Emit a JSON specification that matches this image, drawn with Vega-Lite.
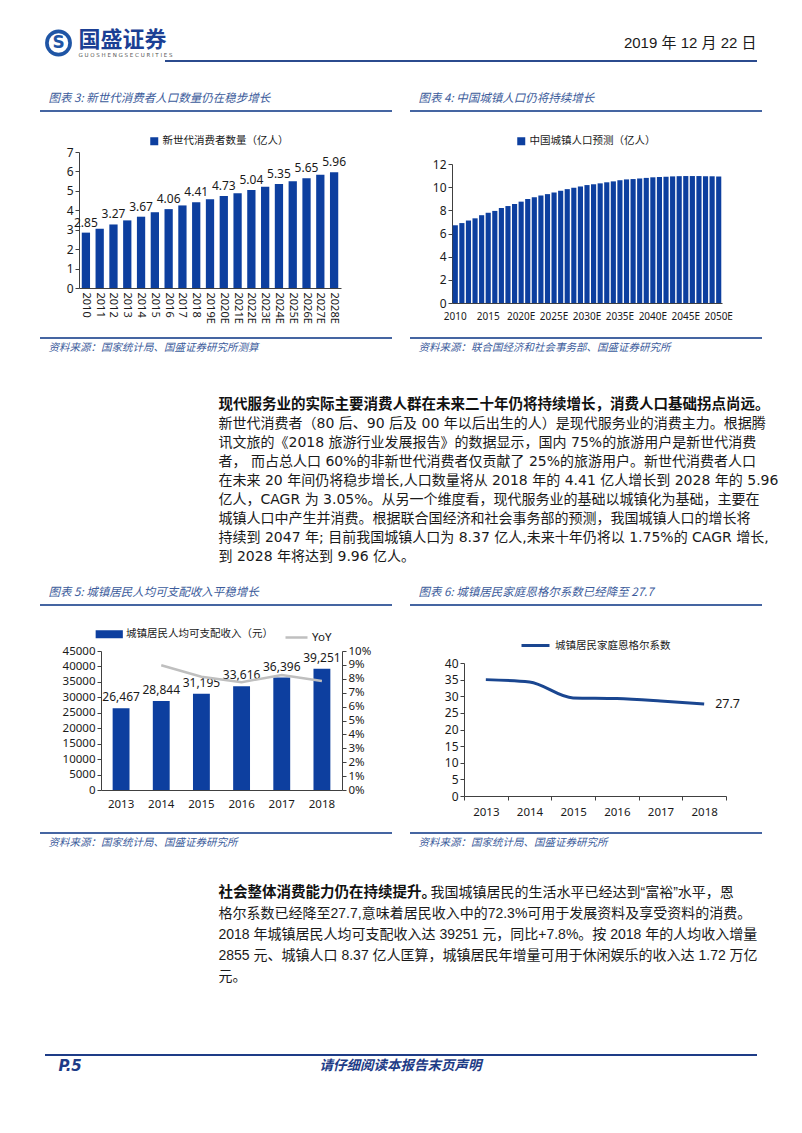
{
  "$schema": "https://vega.github.io/schema/vega-lite/v6.json",
  "background": "white",
  "padding": 0,
  "spacing": 0,
  "bounds": "full",
  "datasets": {"e": [{}]},
  "resolve": {"scale": {"color": "independent", "stroke": "independent"}, "legend": {"color": "independent", "stroke": "independent"}},
  "config": {
    "view": {"stroke": null},
    "font": "Noto Sans, Noto Sans CJK SC",
    "axis": {"labelFont": "Noto Sans", "labelFontSize": 11.5, "labelColor": "#1a1a1a", "domainColor": "#404040", "tickColor": "#404040", "grid": false, "tickSize": 4, "labelOverlap": false},
    "text": {"font": "Noto Sans, Noto Sans CJK SC", "color": "#1a1a1a"},
    "legend": {"labelFont": "Noto Sans CJK SC", "labelColor": "#1a1a1a", "padding": 0, "labelFontSize": 10.5}
  },
  "vconcat": [
    {"width": 1, "height": 26, "data": {"name": "e"}, "mark": {"type": "rect", "opacity": 0}, "encoding": {}},
    {"hconcat": [
      {"width": 41, "height": 34, "data": {"name": "e"}, "mark": {"type": "rect", "opacity": 0}, "encoding": {}},
      {"width": 35, "height": 34, "data": {"name": "e"}, "layer": [
        {"mark": {"type": "point", "filled": true, "size": 720, "color": "#1F55A5", "opacity": 1}, "encoding": {}},
        {"mark": {"type": "point", "filled": true, "size": 380, "color": "#ffffff", "opacity": 1}, "encoding": {}},
        {"mark": {"type": "text", "align": "center", "baseline": "middle", "font": "DejaVu Sans", "fontWeight": "bold", "fontSize": 17, "color": "#1F55A5"}, "encoding": {"text": {"value": "S"}}}
      ]},
      {"width": 2, "height": 1, "data": {"name": "e"}, "mark": {"type": "rect", "opacity": 0}, "encoding": {}},
      {"width": 1, "height": 28, "data": {"name": "e"}, "layer": [
        {"mark": {"type": "text", "align": "left", "baseline": "middle", "font": "Noto Sans CJK SC", "fontWeight": "bold", "fontSize": 22, "color": "#1B3F94"}, "encoding": {"text": {"value": "国盛证券"}}},
        {"mark": {"type": "text", "align": "left", "baseline": "middle", "dy": 15, "font": "DejaVu Sans", "fontSize": 5.5, "color": "#555555"}, "encoding": {"text": {"value": "G U O S H E N G   S E C U R I T I E S"}}}
      ]},
      {"width": 677, "height": 1, "data": {"name": "e"}, "mark": {"type": "rect", "opacity": 0}, "encoding": {}},
      {"width": 1, "height": 34, "data": {"name": "e"}, "mark": {"type": "text", "align": "right", "baseline": "middle", "font": "Liberation Sans Narrow, Liberation Sans, Noto Sans CJK SC", "fontSize": 15, "color": "#1a1a1a"}, "encoding": {"text": {"value": "2019 年 12 月 22 日"}}}
    ], "spacing": 0, "bounds": "flush"},
    {"hconcat": [
      {"width": 165, "height": 28, "data": {"name": "e"}, "mark": {"type": "rect", "opacity": 0}, "encoding": {}},
      {"width": 592, "height": 2, "data": {"name": "e"}, "mark": {"type": "rect", "color": "#2B4B8E"}, "encoding": {}}
    ], "spacing": 0, "bounds": "flush"},
    {"hconcat": [
      {"width": 48, "height": 22, "data": {"name": "e"}, "mark": {"type": "rect", "opacity": 0}, "encoding": {}},
      {"width": 1, "height": 22, "data": {"name": "e"}, "mark": {"type": "text", "align": "left", "baseline": "middle", "font": "Noto Sans CJK SC", "fontSize": 11.5, "fontStyle": "italic", "color": "#3B5B9B"}, "encoding": {"text": {"value": "图表 3: 新世代消费者人口数量仍在稳步增长"}}},
      {"width": 369, "height": 1, "data": {"name": "e"}, "mark": {"type": "rect", "opacity": 0}, "encoding": {}},
      {"width": 1, "height": 22, "data": {"name": "e"}, "mark": {"type": "text", "align": "left", "baseline": "middle", "font": "Noto Sans CJK SC", "fontSize": 11.5, "fontStyle": "italic", "color": "#3B5B9B"}, "encoding": {"text": {"value": "图表 4: 中国城镇人口仍将持续增长"}}}
    ], "spacing": 0, "bounds": "flush"},
    {"hconcat": [
      {"width": 40, "height": 15, "data": {"name": "e"}, "mark": {"type": "rect", "opacity": 0}, "encoding": {}},
      {"width": 352, "height": 2, "data": {"name": "e"}, "mark": {"type": "rect", "color": "#4565A2"}, "encoding": {}},
      {"width": 18, "height": 1, "data": {"name": "e"}, "mark": {"type": "rect", "opacity": 0}, "encoding": {}},
      {"width": 352, "height": 2, "data": {"name": "e"}, "mark": {"type": "rect", "color": "#4565A2"}, "encoding": {}}
    ], "spacing": 0, "bounds": "flush"},
    {"hconcat": [
      {"width": 79, "height": 212, "data": {"name": "e"}, "mark": {"type": "rect", "opacity": 0}, "encoding": {}},
      {
        "width": 262, "height": 163,
        "data": {"values": [
          {"year": "2010", "v": 2.85}, {"year": "2011", "v": 3.05}, {"year": "2012", "v": 3.27},
          {"year": "2013", "v": 3.48}, {"year": "2014", "v": 3.67}, {"year": "2015", "v": 3.9},
          {"year": "2016", "v": 4.06}, {"year": "2017", "v": 4.25}, {"year": "2018", "v": 4.41},
          {"year": "2019E", "v": 4.57}, {"year": "2020E", "v": 4.73}, {"year": "2021E", "v": 4.88},
          {"year": "2022E", "v": 5.04}, {"year": "2023E", "v": 5.21}, {"year": "2024E", "v": 5.35},
          {"year": "2025E", "v": 5.5}, {"year": "2026E", "v": 5.65}, {"year": "2027E", "v": 5.83},
          {"year": "2028E", "v": 5.96}
        ]},
        "layer": [
          {
            "mark": {"type": "bar"},
            "encoding": {
              "x": {"field": "year", "type": "ordinal", "title": null, "scale": {"paddingInner": 0.4, "paddingOuter": 0.2}, "axis": {"labelAngle": 90, "ticks": false, "labelPadding": 4, "labelFontSize": 11}},
              "y": {"field": "v", "type": "quantitative", "title": null, "scale": {"domain": [0, 7], "nice": false, "range": [163, 27]}, "axis": {"values": [0, 1, 2, 3, 4, 5, 6, 7], "labelFontSize": 12}},
              "color": {"datum": "新世代消费者数量（亿人）", "scale": {"range": ["#0D3F9F"]}, "legend": {"orient": "none", "legendX": 70, "legendY": 11, "title": null, "symbolType": "square", "symbolSize": 64, "labelOffset": 3}}
            }
          },
          {
            "transform": [{"filter": {"field": "year", "oneOf": ["2010", "2012", "2014", "2016", "2018", "2020E", "2022E", "2024E", "2026E", "2028E"]}}],
            "mark": {"type": "text", "baseline": "bottom", "dy": -3, "fontSize": 12, "font": "Noto Sans"},
            "encoding": {
              "x": {"field": "year", "type": "ordinal", "title": null, "axis": {"labelAngle": 90, "ticks": false, "labelPadding": 4, "labelFontSize": 11}},
              "y": {"field": "v", "type": "quantitative", "title": null, "axis": {"values": [0, 1, 2, 3, 4, 5, 6, 7], "labelFontSize": 12}},
              "text": {"field": "v", "type": "quantitative", "format": ".2f"}
            }
          }
        ]
      },
      {"width": 111, "height": 1, "data": {"name": "e"}, "mark": {"type": "rect", "opacity": 0}, "encoding": {}},
      {
        "width": 270, "height": 178,
        "data": {"values": [
          {"year": "2010", "v": 6.71}, {"year": "2011", "v": 6.9}, {"year": "2012", "v": 7.12}, {"year": "2013", "v": 7.31},
          {"year": "2014", "v": 7.58}, {"year": "2015", "v": 7.79}, {"year": "2016", "v": 7.95}, {"year": "2017", "v": 8.2},
          {"year": "2018", "v": 8.37}, {"year": "2019E", "v": 8.55}, {"year": "2020E", "v": 8.75}, {"year": "2021E", "v": 8.98},
          {"year": "2022E", "v": 9.13}, {"year": "2023E", "v": 9.28}, {"year": "2024E", "v": 9.4}, {"year": "2025E", "v": 9.54},
          {"year": "2026E", "v": 9.69}, {"year": "2027E", "v": 9.83}, {"year": "2028E", "v": 9.96}, {"year": "2029E", "v": 10.06},
          {"year": "2030E", "v": 10.18}, {"year": "2031E", "v": 10.25}, {"year": "2032E", "v": 10.33}, {"year": "2033E", "v": 10.42},
          {"year": "2034E", "v": 10.5}, {"year": "2035E", "v": 10.6}, {"year": "2036E", "v": 10.67}, {"year": "2037E", "v": 10.7},
          {"year": "2038E", "v": 10.75}, {"year": "2039E", "v": 10.8}, {"year": "2040E", "v": 10.85}, {"year": "2041E", "v": 10.88},
          {"year": "2042E", "v": 10.9}, {"year": "2043E", "v": 10.93}, {"year": "2044E", "v": 10.95}, {"year": "2045E", "v": 10.96},
          {"year": "2046E", "v": 10.96}, {"year": "2047E", "v": 10.96}, {"year": "2048E", "v": 10.95}, {"year": "2049E", "v": 10.94},
          {"year": "2050E", "v": 10.92}
        ]},
        "mark": {"type": "bar"},
        "encoding": {
          "x": {"field": "year", "type": "ordinal", "title": null, "scale": {"paddingInner": 0.22, "paddingOuter": 0.11}, "axis": {"labelAngle": 0, "ticks": false, "labelPadding": 8, "labelFontSize": 10, "values": ["2010", "2015", "2020E", "2025E", "2030E", "2035E", "2040E", "2045E", "2050E"]}},
          "y": {"field": "v", "type": "quantitative", "title": null, "scale": {"domain": [0, 12], "nice": false, "range": [178, 39]}, "axis": {"values": [0, 2, 4, 6, 8, 10, 12], "labelFontSize": 12}},
          "color": {"datum": "中国城镇人口预测（亿人）", "scale": {"range": ["#0D3F9F"]}, "legend": {"orient": "none", "legendX": 64, "legendY": 11, "title": null, "symbolType": "square", "symbolSize": 64, "labelOffset": 3}}
        }
      }
    ], "spacing": 0, "bounds": "flush", "resolve": {"scale": {"color": "independent"}, "legend": {"color": "independent"}}},
    {"hconcat": [
      {"width": 40, "height": 2, "data": {"name": "e"}, "mark": {"type": "rect", "opacity": 0}, "encoding": {}},
      {"width": 352, "height": 2, "data": {"name": "e"}, "mark": {"type": "rect", "color": "#4565A2"}, "encoding": {}},
      {"width": 18, "height": 1, "data": {"name": "e"}, "mark": {"type": "rect", "opacity": 0}, "encoding": {}},
      {"width": 352, "height": 2, "data": {"name": "e"}, "mark": {"type": "rect", "color": "#4565A2"}, "encoding": {}}
    ], "spacing": 0, "bounds": "flush"},
    {"hconcat": [
      {"width": 48, "height": 56, "data": {"name": "e"}, "mark": {"type": "rect", "opacity": 0}, "encoding": {}},
      {"width": 1, "height": 18, "data": {"name": "e"}, "mark": {"type": "text", "align": "left", "baseline": "middle", "font": "Noto Sans CJK SC", "fontSize": 10.5, "fontStyle": "italic", "color": "#3B5B9B"}, "encoding": {"text": {"value": "资料来源：国家统计局、国盛证券研究所测算"}}},
      {"width": 369, "height": 1, "data": {"name": "e"}, "mark": {"type": "rect", "opacity": 0}, "encoding": {}},
      {"width": 1, "height": 18, "data": {"name": "e"}, "mark": {"type": "text", "align": "left", "baseline": "middle", "font": "Noto Sans CJK SC", "fontSize": 10.5, "fontStyle": "italic", "color": "#3B5B9B"}, "encoding": {"text": {"value": "资料来源：联合国经济和社会事务部、国盛证券研究所"}}}
    ], "spacing": 0, "bounds": "flush"},
    {"hconcat": [
      {"width": 218, "height": 187, "data": {"name": "e"}, "mark": {"type": "rect", "opacity": 0}, "encoding": {}},
      {
        "width": 1, "height": 171,
        "data": {"values": [
          {"line": 1, "text": "现代服务业的实际主要消费人群在未来二十年仍将持续增长，消费人口基础拐点尚远。"},
          {"line": 2, "text": "新世代消费者（80 后、90 后及 00 年以后出生的人）是现代服务业的消费主力。根据腾"},
          {"line": 3, "text": "讯文旅的《2018 旅游行业发展报告》的数据显示，国内 75%的旅游用户是新世代消费"},
          {"line": 4, "text": "者， 而占总人口 60%的非新世代消费者仅贡献了 25%的旅游用户。新世代消费者人口"},
          {"line": 5, "text": "在未来 20 年间仍将稳步增长,人口数量将从 2018 年的 4.41 亿人增长到 2028 年的 5.96"},
          {"line": 6, "text": "亿人，CAGR 为 3.05%。从另一个维度看，现代服务业的基础以城镇化为基础，主要在"},
          {"line": 7, "text": "城镇人口中产生并消费。根据联合国经济和社会事务部的预测，我国城镇人口的增长将"},
          {"line": 8, "text": "持续到 2047 年; 目前我国城镇人口为 8.37 亿人,未来十年仍将以 1.75%的 CAGR 增长,"},
          {"line": 9, "text": "到 2028 年将达到 9.96 亿人。"}
        ]},
        "layer": [
          {
            "transform": [{"filter": "datum.line == 1"}],
            "mark": {"type": "text", "align": "left", "baseline": "middle", "font": "Noto Sans CJK SC", "fontWeight": "bold", "fontSize": 14.5, "color": "#111111"},
            "encoding": {"y": {"field": "line", "type": "ordinal", "axis": null, "scale": {"type": "point", "padding": 0.5, "domain": [1, 2, 3, 4, 5, 6, 7, 8, 9]}}, "text": {"field": "text"}}
          },
          {
            "transform": [{"filter": "datum.line > 1"}],
            "mark": {"type": "text", "align": "left", "baseline": "middle", "font": "DejaVu Sans, Noto Sans CJK SC", "fontSize": 14, "color": "#1a1a1a"},
            "encoding": {"y": {"field": "line", "type": "ordinal", "axis": null}, "text": {"field": "text"}}
          }
        ]
      }
    ], "spacing": 0, "bounds": "flush"},
    {"hconcat": [
      {"width": 48, "height": 22, "data": {"name": "e"}, "mark": {"type": "rect", "opacity": 0}, "encoding": {}},
      {"width": 1, "height": 22, "data": {"name": "e"}, "mark": {"type": "text", "align": "left", "baseline": "middle", "font": "Noto Sans CJK SC", "fontSize": 11.5, "fontStyle": "italic", "color": "#3B5B9B"}, "encoding": {"text": {"value": "图表 5: 城镇居民人均可支配收入平稳增长"}}},
      {"width": 369, "height": 1, "data": {"name": "e"}, "mark": {"type": "rect", "opacity": 0}, "encoding": {}},
      {"width": 1, "height": 22, "data": {"name": "e"}, "mark": {"type": "text", "align": "left", "baseline": "middle", "font": "Noto Sans CJK SC", "fontSize": 11.5, "fontStyle": "italic", "color": "#3B5B9B"}, "encoding": {"text": {"value": "图表 6: 城镇居民家庭恩格尔系数已经降至 27.7"}}}
    ], "spacing": 0, "bounds": "flush"},
    {"hconcat": [
      {"width": 40, "height": 11, "data": {"name": "e"}, "mark": {"type": "rect", "opacity": 0}, "encoding": {}},
      {"width": 352, "height": 2, "data": {"name": "e"}, "mark": {"type": "rect", "color": "#4565A2"}, "encoding": {}},
      {"width": 18, "height": 1, "data": {"name": "e"}, "mark": {"type": "rect", "opacity": 0}, "encoding": {}},
      {"width": 352, "height": 2, "data": {"name": "e"}, "mark": {"type": "rect", "color": "#4565A2"}, "encoding": {}}
    ], "spacing": 0, "bounds": "flush"},
    {"hconcat": [
      {"width": 101, "height": 217, "data": {"name": "e"}, "mark": {"type": "rect", "opacity": 0}, "encoding": {}},
      {
        "width": 241, "height": 175,
        "data": {"values": [
          {"year": "2013", "inc": 26467}, {"year": "2014", "inc": 28844}, {"year": "2015", "inc": 31195},
          {"year": "2016", "inc": 33616}, {"year": "2017", "inc": 36396}, {"year": "2018", "inc": 39251}
        ]},
        "layer": [
          {
            "mark": {"type": "bar"},
            "encoding": {
              "x": {"field": "year", "type": "ordinal", "title": null, "scale": {"paddingInner": 0.58, "paddingOuter": 0.29}, "axis": {"labelAngle": 0, "ticks": false, "labelPadding": 8, "labelFontSize": 11.5}},
              "y": {"field": "inc", "type": "quantitative", "title": null, "scale": {"domain": [0, 45000], "nice": false, "range": [175, 36]}, "axis": {"orient": "left", "values": [0, 5000, 10000, 15000, 20000, 25000, 30000, 35000, 40000, 45000], "format": "d", "labelFontSize": 11.5}},
              "color": {"datum": "城镇居民人均可支配收入（元）", "scale": {"range": ["#0D3F9F"]}, "legend": {"orient": "none", "legendX": 3, "legendY": 14, "title": null, "symbolType": "M-3.4,-1H3.4V1H-3.4Z", "symbolSize": 64, "labelOffset": 11.5}}
            }
          },
          {
            "mark": {"type": "text", "baseline": "bottom", "dy": -4, "fontSize": 12, "font": "Noto Sans"},
            "encoding": {
              "x": {"field": "year", "type": "ordinal", "title": null, "axis": {"labelAngle": 0, "ticks": false, "labelPadding": 8, "labelFontSize": 11.5}},
              "y": {"field": "inc", "type": "quantitative", "scale": {"domain": [0, 45000], "nice": false, "range": [175, 36]}, "axis": null},
              "text": {"field": "inc", "type": "quantitative", "format": ","}
            }
          },
          {
            "data": {"values": [
              {"year": "2014", "yoy": 0.0898}, {"year": "2015", "yoy": 0.0815}, {"year": "2016", "yoy": 0.0776},
              {"year": "2017", "yoy": 0.0827}, {"year": "2018", "yoy": 0.0784}
            ]},
            "mark": {"type": "line", "strokeWidth": 2.5},
            "encoding": {
              "x": {"field": "year", "type": "ordinal", "bandPosition": 0.5, "title": null, "axis": {"labelAngle": 0, "ticks": false, "labelPadding": 8, "labelFontSize": 11.5}},
              "y": {"field": "yoy", "type": "quantitative", "title": null, "scale": {"domain": [0, 0.1], "nice": false, "range": [175, 36]}, "axis": {"orient": "right", "format": ".0%", "values": [0, 0.01, 0.02, 0.03, 0.04, 0.05, 0.06, 0.07, 0.08, 0.09, 0.1], "labelFontSize": 11.5}},
              "stroke": {"datum": "YoY", "scale": {"range": ["#BFBFBF"]}, "legend": {"orient": "none", "legendX": 183, "legendY": 10, "title": null, "symbolType": "stroke", "symbolSize": 484, "symbolStrokeWidth": 2.5, "labelOffset": 3, "labelFont": "Noto Sans", "labelFontSize": 11.5}}
            }
          }
        ],
        "resolve": {"scale": {"y": "independent"}}
      },
      {"width": 122, "height": 1, "data": {"name": "e"}, "mark": {"type": "rect", "opacity": 0}, "encoding": {}},
      {
        "width": 262, "height": 181,
        "data": {"values": [
          {"year": "2013", "e": 35.0}, {"year": "2014", "e": 34.3}, {"year": "2015", "e": 29.5},
          {"year": "2016", "e": 29.3}, {"year": "2017", "e": 28.6}, {"year": "2018", "e": 27.7}
        ]},
        "layer": [
          {
            "mark": {"type": "line", "interpolate": "monotone", "strokeWidth": 3},
            "encoding": {
              "x": {"field": "year", "type": "ordinal", "title": null, "bandPosition": 0.5, "scale": {"type": "band", "paddingInner": 0, "paddingOuter": 0}, "axis": {"labelAngle": 0, "ticks": true, "tickBand": "extent", "labelPadding": 6, "labelFontSize": 11.5}},
              "y": {"field": "e", "type": "quantitative", "title": null, "scale": {"domain": [0, 40], "nice": false, "range": [181, 48]}, "axis": {"values": [0, 5, 10, 15, 20, 25, 30, 35, 40], "labelFontSize": 12}},
              "stroke": {"datum": "城镇居民家庭恩格尔系数", "scale": {"range": ["#1A4690"]}, "legend": {"orient": "none", "legendX": 56, "legendY": 15, "title": null, "symbolType": "stroke", "symbolSize": 784, "symbolStrokeWidth": 3, "labelOffset": 4}}
            }
          },
          {
            "transform": [{"filter": "datum.year == '2018'"}],
            "mark": {"type": "text", "align": "left", "baseline": "middle", "dx": 11, "fontSize": 12.5, "font": "Noto Sans"},
            "encoding": {
              "x": {"field": "year", "type": "ordinal", "bandPosition": 0.5, "title": null, "axis": {"labelAngle": 0, "ticks": true, "tickBand": "extent", "labelPadding": 6, "labelFontSize": 11.5}},
              "y": {"field": "e", "type": "quantitative", "title": null, "axis": {"values": [0, 5, 10, 15, 20, 25, 30, 35, 40], "labelFontSize": 12}},
              "text": {"field": "e", "type": "quantitative", "format": ".1f"}
            }
          }
        ]
      }
    ], "spacing": 0, "bounds": "flush", "resolve": {"scale": {"color": "independent", "stroke": "independent"}, "legend": {"color": "independent", "stroke": "independent"}}},
    {"hconcat": [
      {"width": 40, "height": 2, "data": {"name": "e"}, "mark": {"type": "rect", "opacity": 0}, "encoding": {}},
      {"width": 352, "height": 2, "data": {"name": "e"}, "mark": {"type": "rect", "color": "#4565A2"}, "encoding": {}},
      {"width": 18, "height": 1, "data": {"name": "e"}, "mark": {"type": "rect", "opacity": 0}, "encoding": {}},
      {"width": 352, "height": 2, "data": {"name": "e"}, "mark": {"type": "rect", "color": "#4565A2"}, "encoding": {}}
    ], "spacing": 0, "bounds": "flush"},
    {"hconcat": [
      {"width": 48, "height": 48, "data": {"name": "e"}, "mark": {"type": "rect", "opacity": 0}, "encoding": {}},
      {"width": 1, "height": 18, "data": {"name": "e"}, "mark": {"type": "text", "align": "left", "baseline": "middle", "font": "Noto Sans CJK SC", "fontSize": 10.5, "fontStyle": "italic", "color": "#3B5B9B"}, "encoding": {"text": {"value": "资料来源：国家统计局、国盛证券研究所"}}},
      {"width": 369, "height": 1, "data": {"name": "e"}, "mark": {"type": "rect", "opacity": 0}, "encoding": {}},
      {"width": 1, "height": 18, "data": {"name": "e"}, "mark": {"type": "text", "align": "left", "baseline": "middle", "font": "Noto Sans CJK SC", "fontSize": 10.5, "fontStyle": "italic", "color": "#3B5B9B"}, "encoding": {"text": {"value": "资料来源：国家统计局、国盛证券研究所"}}}
    ], "spacing": 0, "bounds": "flush"},
    {"hconcat": [
      {"width": 218, "height": 172, "data": {"name": "e"}, "mark": {"type": "rect", "opacity": 0}, "encoding": {}},
      {
        "width": 1, "height": 105,
        "data": {"values": [
          {"line": 1, "text": "社会整体消费能力仍在持续提升。"},
          {"line": 2, "text": "格尔系数已经降至27.7,意味着居民收入中的72.3%可用于发展资料及享受资料的消费。"},
          {"line": 3, "text": "2018 年城镇居民人均可支配收入达 39251 元，同比+7.8%。按 2018 年的人均收入增量"},
          {"line": 4, "text": "2855 元、城镇人口 8.37 亿人匡算，城镇居民年增量可用于休闲娱乐的收入达 1.72 万亿"},
          {"line": 5, "text": "元。"}
        ]},
        "layer": [
          {
            "transform": [{"filter": "datum.line == 1"}],
            "mark": {"type": "text", "align": "left", "baseline": "middle", "font": "Noto Sans CJK SC", "fontWeight": "bold", "fontSize": 14.5, "color": "#111111"},
            "encoding": {"y": {"field": "line", "type": "ordinal", "axis": null, "scale": {"type": "point", "padding": 0.5, "domain": [1, 2, 3, 4, 5]}}, "text": {"field": "text"}}
          },
          {
            "transform": [{"filter": "datum.line > 1"}],
            "mark": {"type": "text", "align": "left", "baseline": "middle", "font": "Liberation Sans Narrow, Liberation Sans, Noto Sans CJK SC", "fontSize": 14, "color": "#1a1a1a"},
            "encoding": {"y": {"field": "line", "type": "ordinal", "axis": null}, "text": {"field": "text"}}
          }
        ]
      },
      {"width": 211, "height": 1, "data": {"name": "e"}, "mark": {"type": "rect", "opacity": 0}, "encoding": {}},
      {"width": 1, "height": 21, "data": {"name": "e"}, "mark": {"type": "text", "align": "left", "baseline": "middle", "font": "Liberation Sans Narrow, Liberation Sans, Noto Sans CJK SC", "fontSize": 14, "color": "#1a1a1a"}, "encoding": {"text": {"value": "我国城镇居民的生活水平已经达到“富裕”水平，恩"}}}
    ], "spacing": 0, "bounds": "flush"},
    {"hconcat": [
      {"width": 45, "height": 2, "data": {"name": "e"}, "mark": {"type": "rect", "opacity": 0}, "encoding": {}},
      {"width": 712, "height": 2, "data": {"name": "e"}, "mark": {"type": "rect", "color": "#1E3C87"}, "encoding": {}}
    ], "spacing": 0, "bounds": "flush"},
    {"hconcat": [
      {"width": 58, "height": 20, "data": {"name": "e"}, "mark": {"type": "rect", "opacity": 0}, "encoding": {}},
      {"width": 1, "height": 20, "data": {"name": "e"}, "mark": {"type": "text", "align": "left", "baseline": "middle", "font": "DejaVu Sans", "fontWeight": "bold", "fontStyle": "italic", "fontSize": 15, "color": "#1E3C87"}, "encoding": {"text": {"value": "P.5"}}},
      {"width": 341, "height": 1, "data": {"name": "e"}, "mark": {"type": "rect", "opacity": 0}, "encoding": {}},
      {"width": 1, "height": 20, "data": {"name": "e"}, "mark": {"type": "text", "align": "center", "baseline": "middle", "font": "Noto Sans CJK SC", "fontWeight": "bold", "fontStyle": "italic", "fontSize": 13.5, "color": "#1E3C87"}, "encoding": {"text": {"value": "请仔细阅读本报告末页声明"}}}
    ], "spacing": 0, "bounds": "flush"}
  ]
}
